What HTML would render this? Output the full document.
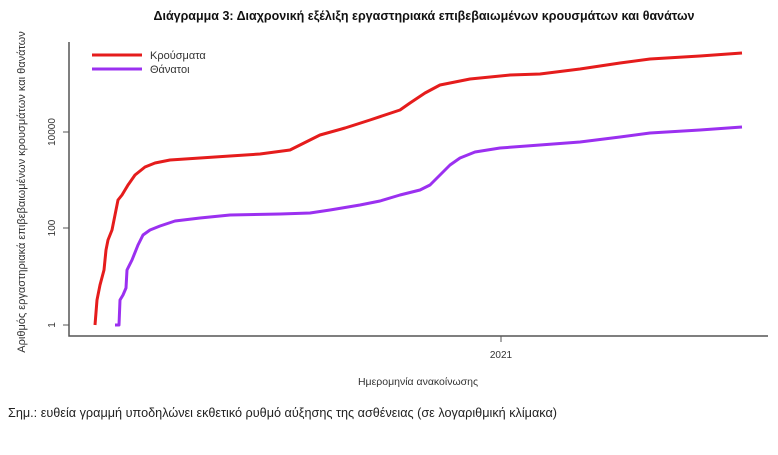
<!DOCTYPE html>
<html><head><meta charset="utf-8"><style>
body{margin:0;background:#fff;width:778px;height:450px;overflow:hidden}
text{font-family:"Liberation Sans","DejaVu Sans",sans-serif}
</style></head><body>
<svg width="778" height="450" viewBox="0 0 778 450" xmlns="http://www.w3.org/2000/svg">
<text x="424" y="20" text-anchor="middle" font-size="12.5" font-weight="bold" fill="#111">Διάγραμμα 3: Διαχρονική εξέλιξη εργαστηριακά επιβεβαιωμένων κρουσμάτων και θανάτων</text>
<path d="M69 42V336H768" fill="none" stroke="#555" stroke-width="1.5"/>
<path d="M63 132H69M63 228H69M63 325H69M501 336V342" stroke="#555" stroke-width="1"/>
<g font-size="10" fill="#333">
<text transform="translate(55,132) rotate(-90)" text-anchor="middle">10000</text>
<text transform="translate(55,228) rotate(-90)" text-anchor="middle">100</text>
<text transform="translate(55,325) rotate(-90)" text-anchor="middle">1</text>
<text x="501" y="358" text-anchor="middle">2021</text>
<text x="418" y="385" text-anchor="middle" font-size="10.5">Ημερομηνία ανακοίνωσης</text>
<text transform="translate(25,192) rotate(-90)" text-anchor="middle" font-size="11">Αριθμός εργαστηριακά επιβεβαιωμένων κρουσμάτων και θανάτων</text>
<text x="150" y="59" font-size="11">Κρούσματα</text>
<text x="150" y="73" font-size="11">Θάνατοι</text>
</g>
<line x1="92" y1="55" x2="142" y2="55" stroke="#e51c1c" stroke-width="3"/>
<line x1="92" y1="69" x2="142" y2="69" stroke="#9b30f0" stroke-width="3"/>
<polyline fill="none" stroke="#e51c1c" stroke-width="3" stroke-linejoin="round" points="95,325 97,300 100,285 104,270 106,250 108,240 112,230 115,215 118,200 122,195 128,185 135,175 145,167 155,163 170,160 200,158 230,156 260,154 290,150 300,145 320,135 345,128 370,120 400,110 410,103 425,93 440,85 470,79 510,75 540,74 580,69 620,63 650,59 700,56 742,53"/>
<polyline fill="none" stroke="#9b30f0" stroke-width="3" stroke-linejoin="round" points="115,325 119,325 120,300 123,295 126,288 127,270 132,260 138,245 143,235 150,230 160,226 175,221 200,218 230,215 280,214 310,213 330,210 360,205 380,201 400,195 420,190 430,185 440,175 450,165 460,158 475,152 500,148 540,145 580,142 620,137 650,133 700,130 742,127"/>
<text x="8" y="417" font-size="12.5" fill="#222" textLength="549" lengthAdjust="spacingAndGlyphs">Σημ.: ευθεία γραμμή υποδηλώνει εκθετικό ρυθμό αύξησης της ασθένειας (σε λογαριθμική κλίμακα)</text>
</svg>
</body></html>
